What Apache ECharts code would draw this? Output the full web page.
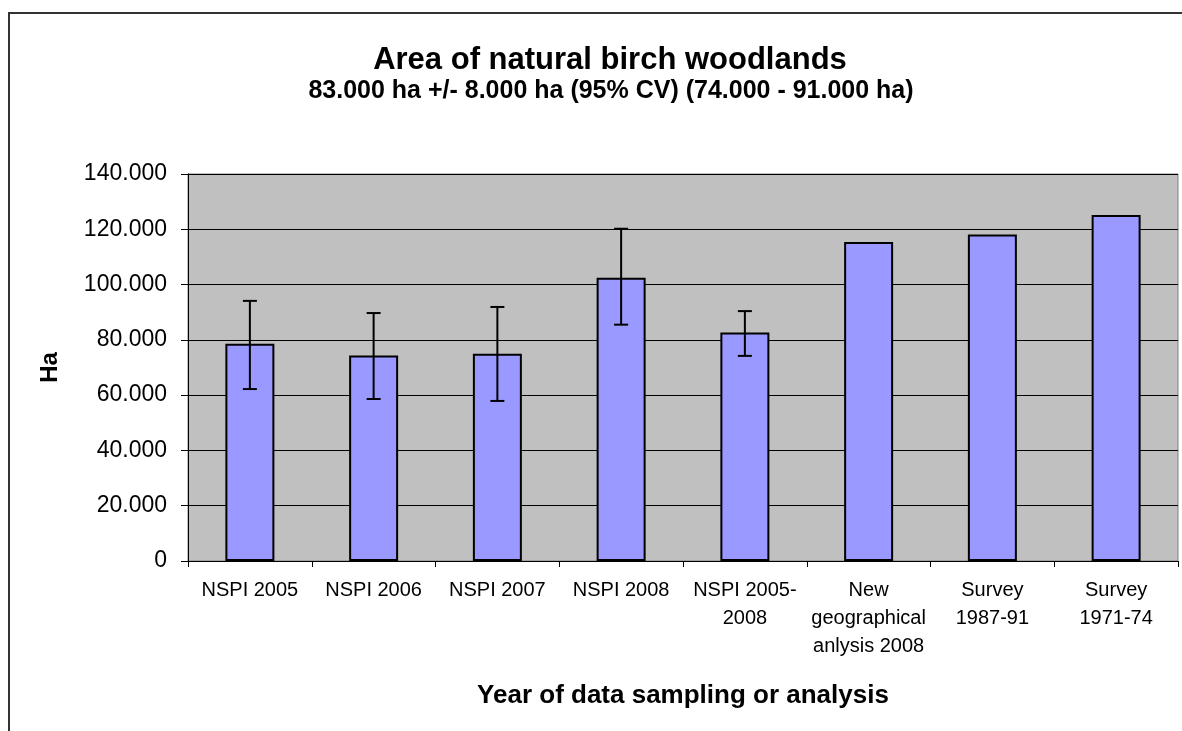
<!DOCTYPE html>
<html lang="en">
<head>
    <meta charset="UTF-8">
    <title>Area of natural birch woodlands</title>
    <script src="https://cdn.jsdelivr.net/npm/echarts@6/dist/echarts.min.js"></script>
    <style>
        html, body { margin: 0; padding: 0; background: #ffffff; }
        #chart { width: 1182px; height: 731px; }
    </style>
</head>
<body>
<div id="chart"></div>
<script>
    // categories (x axis)
    var categories = ['NSPI 2005', 'NSPI 2006', 'NSPI 2007', 'NSPI 2008', 'NSPI 2005-\n2008',
        'New\ngeographical\nanlysis 2008', 'Survey\n1987-91', 'Survey\n1971-74'];
    // area in thousand ha
    var areaValues = [78.6, 74.3, 75.0, 102.5, 82.7, 115.4, 118.1, 125.2];
    // error bar ranges (low, high), null where there is no bar
    var errLow = [62.2, 58.6, 57.9, 85.5, 74.2, null, null, null];
    var errHigh = [94.1, 89.7, 91.9, 120.2, 90.4, null, null, null];
    // y tick labels
    var yTicks = [0, 20, 40, 60, 80, 100, 120, 140];

    var errData = [];
    for (var i = 0; i < categories.length; i++) {
        if (errLow[i] != null) {
            errData.push([i, errLow[i], errHigh[i]]);
        }
    }

    var fontFam = 'Arial, "Liberation Sans", sans-serif';

    var option = {
        animation: false,
        backgroundColor: '#ffffff',
        title: [
            {
                text: 'Area of natural birch woodlands',
                left: 605, top: 40, textAlign: 'center',
                textStyle: { fontFamily: fontFam, fontSize: 31, fontWeight: 'bold', color: '#000' }
            },
            {
                text: '83.000 ha +/- 8.000 ha (95% CV) (74.000 - 91.000 ha)',
                left: 606, top: 74, textAlign: 'center',
                textStyle: { fontFamily: fontFam, fontSize: 25, fontWeight: 'bold', color: '#000' }
            }
        ],
        graphic: [
            {
                type: 'rect',
                shape: { x: 9, y: 13, width: 1300, height: 900 },
                style: { fill: 'none', stroke: '#333333', lineWidth: 2 },
                silent: true
            }
        ],
        grid: {
            left: 188, right: 4, top: 174, bottom: 170,
            show: true,
            backgroundColor: '#c0c0c0',
            borderColor: '#808080',
            borderWidth: 1
        },
        xAxis: {
            type: 'category',
            data: categories,
            boundaryGap: true,
            name: 'Year of data sampling or analysis',
            nameLocation: 'middle',
            nameGap: 122,
            nameTextStyle: { fontFamily: fontFam, fontSize: 26, fontWeight: 'bold', color: '#000' },
            axisLine: { lineStyle: { color: '#000', width: 1 } },
            axisTick: { show: true, length: 6, alignWithLabel: false, lineStyle: { color: '#000' } },
            axisLabel: {
                interval: 0,
                margin: 15,
                fontFamily: fontFam,
                fontSize: 20,
                color: '#000',
                lineHeight: 28
            }
        },
        yAxis: {
            type: 'value',
            min: yTicks[0],
            max: yTicks[yTicks.length - 1],
            interval: 20,
            name: 'Ha',
            nameLocation: 'middle',
            nameGap: 126,
            nameRotate: 90,
            nameTextStyle: { fontFamily: fontFam, fontSize: 24, fontWeight: 'bold', color: '#000' },
            axisLine: { show: true, lineStyle: { color: '#000', width: 1 } },
            axisTick: { show: true, length: 7, lineStyle: { color: '#000' } },
            axisLabel: {
                margin: 21,
                fontFamily: fontFam,
                fontSize: 23,
                color: '#000',
                formatter: function (v) { return v === 0 ? '0' : v.toFixed(3); }
            },
            splitLine: { show: true, lineStyle: { color: '#000', width: 1 } }
        },
        series: [
            {
                name: 'Area',
                type: 'bar',
                data: areaValues,
                barWidth: 49,
                itemStyle: { color: '#9999ff', borderColor: '#000', borderWidth: 2 }
            },
            {
                name: 'CI',
                type: 'custom',
                data: errData,
                z: 10,
                renderItem: function (params, api) {
                    var x = api.value(0);
                    var lo = api.coord([x, api.value(1)]);
                    var hi = api.coord([x, api.value(2)]);
                    var cap = 7;
                    var st = { stroke: '#000', lineWidth: 2 };
                    return {
                        type: 'group',
                        children: [
                            { type: 'line', shape: { x1: lo[0], y1: lo[1], x2: hi[0], y2: hi[1] }, style: st },
                            { type: 'line', shape: { x1: lo[0] - cap, y1: lo[1], x2: lo[0] + cap, y2: lo[1] }, style: st },
                            { type: 'line', shape: { x1: hi[0] - cap, y1: hi[1], x2: hi[0] + cap, y2: hi[1] }, style: st }
                        ]
                    };
                }
            }
        ]
    };

    var chart = echarts.init(document.getElementById('chart'));
    chart.setOption(option);
</script>
</body>
</html>
